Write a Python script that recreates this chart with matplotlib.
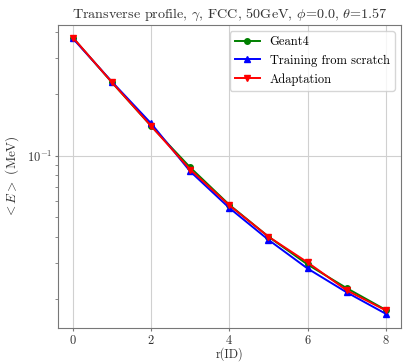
import matplotlib
matplotlib.use('Agg')
import matplotlib.pyplot as plt

r_id = [0, 1, 2, 3, 4, 5, 6, 7, 8]
geant4 = [0.376, 0.2275, 0.1395, 0.0875, 0.0575, 0.0402, 0.0294, 0.02254, 0.01765]
scratch = [0.373, 0.229, 0.1435, 0.0837, 0.0555, 0.0388, 0.0281, 0.0215, 0.0169]
adaptation = [0.377, 0.2275, 0.1395, 0.0855, 0.0572, 0.0402, 0.0301, 0.0220, 0.01755]

plt.rcParams['font.family'] = 'serif'
plt.rcParams['font.serif'] = ['cmr10']
plt.rcParams['mathtext.fontset'] = 'cm'
plt.rcParams['axes.formatter.use_mathtext'] = True
plt.rcParams['axes.unicode_minus'] = False

fig, ax = plt.subplots(figsize=(4.03, 3.62), dpi=100)
fig.subplots_adjust(left=0.144, right=0.995, top=0.931, bottom=0.094)

ax.plot(r_id, geant4, color='green', marker='o', markersize=4, lw=1.4, label='Geant4')
ax.plot(r_id, scratch, color='blue', marker='^', markersize=4, lw=1.4, label='Training from scratch')
ax.plot(r_id, adaptation, color='red', marker='v', markersize=4, lw=1.4, label='Adaptation')

ax.set_yscale('log')
ax.set_ylim(0.0144, 0.434)
ax.set_xlim(-0.38, 8.39)
ax.set_xticks([0, 2, 4, 6, 8])
ax.grid(True, which='major', color='#d0d0d0', lw=0.8)
for s in ax.spines.values():
    s.set_color('#777777')
ax.tick_params(which='major', length=2.5, pad=1.5, colors='#777777', labelcolor='#333333', labelsize=9)
ax.tick_params(which='minor', length=2, colors='#777777')

ax.set_title(r'Transverse profile, $\gamma$, FCC, 50GeV, $\phi$=0.0, $\theta$=1.57', fontsize=10.2, color='#333333', pad=5)
ax.set_xlabel('r(ID)', fontsize=8.8, color='#333333')
ax.xaxis.set_label_coords(0.5, -0.062)
ax.set_ylabel(r'$<E>$ (MeV)', fontsize=9.5, color='#333333', labelpad=4)
ax.legend(loc='upper right', fontsize=9, framealpha=0.8, handlelength=2.0)

fig.savefig('out.png', dpi=100)
